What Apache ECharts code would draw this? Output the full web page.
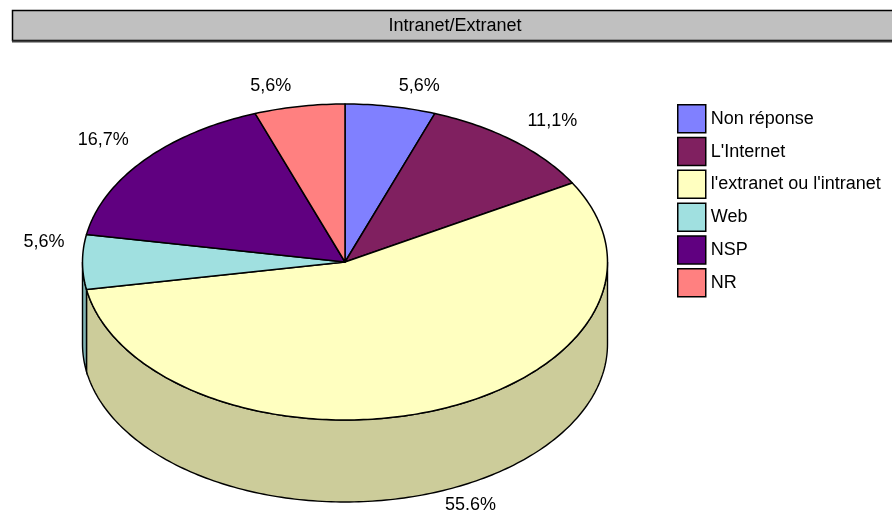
<!DOCTYPE html>
<html>
<head>
<meta charset="utf-8">
<script src="https://cdn.jsdelivr.net/npm/echarts@6/dist/echarts.min.js"></script>
<style>
  html, body { margin: 0; padding: 0; background: #fff; }
  #chart { width: 892px; height: 512px; }
</style>
</head>
<body>
<div id="chart"></div>
<script>
// data
const chartTitle = 'Intranet/Extranet';
const categories = ['Non réponse', 'L\'Internet', 'l\'extranet ou l\'intranet', 'Web', 'NSP', 'NR'];
const counts = [1, 2, 10, 1, 3, 1];
const labelTexts = ['5,6%', '11,1%', '55.6%', '5,6%', '16,7%', '5,6%'];

// styles
const topColors = ['#8080FF', '#802060', '#FFFFC0', '#A0E0E0', '#600080', '#FF8080'];
const sideColors = ['#6666CC', '#661A4D', '#CCCC9A', '#80B3B3', '#4D0066', '#CC6666'];
const FONT = '"Liberation Sans", Arial, sans-serif';

// 3D pie geometry
const CX = 345, CY = 262, RX = 262.5, RY = 158, DEPTH = 82;
const total = counts.reduce((a, b) => a + b, 0);
const startAngles = [];
(function () {
  let acc = 0;
  counts.forEach(c => { startAngles.push(acc / total * 360); acc += c; });
})();

function pt(deg, dy) {
  const r = deg * Math.PI / 180;
  return [CX + RX * Math.sin(r), CY - RY * Math.cos(r) + (dy || 0)];
}

function renderSlice(params, api) {
  const i = params.seriesIndex;
  const v = api.value(0);
  const a1 = startAngles[i];
  const a2 = a1 + v / total * 360;
  const children = [];

  // side wall (front half: 90..270)
  const b1 = Math.max(a1, 90), b2 = Math.min(a2, 270);
  if (b2 > b1) {
    const pts = [];
    for (let a = b1; a < b2; a += 1) pts.push(pt(a));
    pts.push(pt(b2));
    for (let a = b2; a > b1; a -= 1) pts.push(pt(a, DEPTH));
    pts.push(pt(b1, DEPTH));
    children.push({
      type: 'polygon', z2: 1,
      shape: { points: pts },
      style: { fill: sideColors[i], stroke: '#000', lineWidth: 1.4 }
    });
  }

  // top face
  const top = [[CX, CY]];
  for (let a = a1; a < a2; a += 1) top.push(pt(a));
  top.push(pt(a2));
  children.push({
    type: 'polygon', z2: 5,
    shape: { points: top },
    style: { fill: topColors[i], stroke: '#000', lineWidth: 1.5, lineJoin: 'round' }
  });

  // label
  const mid = (a1 + a2) / 2 * Math.PI / 180;
  const s = Math.sin(mid), c = Math.cos(mid);
  const lx = CX + (RX + 12) * s + (s >= 0 ? 6 : -6);
  const ly = CY - RY * c + (c > -0.2 ? -20 : DEPTH + 12.5);
  children.push({
    type: 'text', z2: 10,
    style: {
      x: lx, y: ly, text: labelTexts[i],
      align: s >= 0 ? 'left' : 'right', verticalAlign: 'middle',
      fill: '#000', font: '18px ' + FONT
    }
  });

  return { type: 'group', children: children };
}

const chart = echarts.init(document.getElementById('chart'));

chart.setOption({
  animation: false,
  backgroundColor: '#fff',
  graphic: [
    {
      type: 'rect', z: 0,
      shape: { x: 12.5, y: 10.5, width: 900, height: 30 },
      style: { fill: '#C0C0C0', stroke: '#000', lineWidth: 1.5 }
    },
    {
      type: 'line', z: 1,
      shape: { x1: 12, y1: 41.5, x2: 892, y2: 41.5 },
      style: { stroke: '#404040', lineWidth: 2 }
    },
    {
      type: 'text', z: 2,
      style: {
        x: 455, y: 26, text: chartTitle, align: 'center', verticalAlign: 'middle',
        fill: '#000', font: '18px ' + FONT
      }
    }
  ],
  legend: {
    data: categories,
    orient: 'vertical',
    left: 677,
    top: 104,
    padding: 0,
    itemWidth: 28,
    itemHeight: 28,
    itemGap: 3.3,
    icon: 'rect',
    selectedMode: false,
    itemStyle: { borderColor: '#000', borderWidth: 1.5 },
    textStyle: { fontSize: 18, color: '#000', fontFamily: FONT }
  },
  series: categories.map((name, i) => ({
    type: 'custom',
    name: name,
    coordinateSystem: 'none',
    itemStyle: { color: topColors[i] },
    renderItem: renderSlice,
    data: [[counts[i]]]
  }))
});
</script>
</body>
</html>
